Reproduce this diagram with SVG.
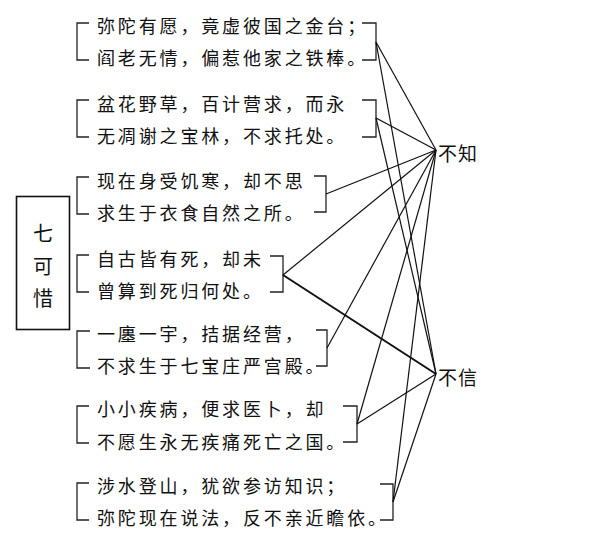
<svg xmlns="http://www.w3.org/2000/svg" width="600" height="542" viewBox="0 0 600 542">
<style>
.t{font-family:"Noto Sans CJK SC","Noto Sans CJK JP",sans-serif;font-size:18px;letter-spacing:2.85px;fill:#111;dominant-baseline:central}
.lbl{font-family:"Noto Sans CJK SC","Noto Sans CJK JP",sans-serif;font-size:19px;letter-spacing:1px;fill:#111;dominant-baseline:central}
.big{font-family:"Noto Sans CJK SC","Noto Sans CJK JP",sans-serif;font-size:20px;fill:#111;dominant-baseline:central;text-anchor:middle}
.br{fill:none;stroke:#222;stroke-width:1.3}
.ln{stroke:#111;stroke-width:1.2;fill:none}
.lnb{stroke:#111;stroke-width:2;fill:none}
</style>
<rect width="600" height="542" fill="#fff"/>
<g id="title">
<rect x="16.5" y="196.5" width="53" height="133" fill="none" stroke="#111" stroke-width="1.6"/>
<text class="big" x="43" y="232">七</text>
<text class="big" x="43" y="265">可</text>
<text class="big" x="43" y="297">惜</text>
</g>
<g id="g1">
<path class="br" d="M89,23H77V60H89"/>
<text class="t" x="97" y="25">弥陀有愿，竟虚彼国之金台；</text>
<text class="t" x="97" y="57">阎老无情，偏惹他家之铁棒。</text>
<path class="br" d="M362,23H376V60H362"/>
</g>
<g id="g2">
<path class="br" d="M89,100H77V137H89"/>
<text class="t" x="97" y="103">盆花野草，百计营求，而永</text>
<text class="t" x="97" y="135">无凋谢之宝林，不求托处。</text>
<path class="br" d="M362,100H376V137H362"/>
</g>
<g id="g3">
<path class="br" d="M89,177H77V214H89"/>
<text class="t" x="97" y="180">现在身受饥寒，却不思</text>
<text class="t" x="97" y="212">求生于衣食自然之所。</text>
<path class="br" d="M314,176H326V212H314"/>
</g>
<g id="g4">
<path class="br" d="M89,255H77V292H89"/>
<text class="t" x="97" y="258">自古皆有死，却未</text>
<text class="t" x="97" y="290">曾算到死归何处。</text>
<path class="br" d="M270,256H283V292H270"/>
</g>
<g id="g5">
<path class="br" d="M90,331H77V368H90"/>
<text class="t" x="97" y="333">一廛一宇，拮据经营，</text>
<text class="t" x="97" y="365">不求生于七宝庄严宫殿。</text>
<path class="br" d="M316,330H327V366H316"/>
</g>
<g id="g6">
<path class="br" d="M89,406H77V443H89"/>
<text class="t" x="97" y="408">小小疾病，便求医卜，却</text>
<text class="t" x="97" y="441">不愿生永无疾痛死亡之国。</text>
<path class="br" d="M343,406H357V442H343"/>
</g>
<g id="g7">
<path class="br" d="M89,483H77V520H89"/>
<text class="t" x="97" y="485">涉水登山，犹欲参访知识；</text>
<text class="t" x="97" y="517">弥陀现在说法，反不亲近瞻依。</text>
<path class="br" d="M380,484H393V520H380"/>
</g>
<g id="buzhi">
<text class="lbl" x="438" y="152">不知</text>
</g>
<g id="buxin">
<text class="lbl" x="438" y="376">不信</text>
</g>
<g id="connectors">
<line class="ln" x1="376" y1="42" x2="436" y2="150"/>
<line class="ln" x1="376" y1="42" x2="436" y2="374"/>
<line class="ln" x1="376" y1="118" x2="436" y2="150"/>
<line class="ln" x1="376" y1="118" x2="436" y2="374"/>
<line class="ln" x1="326" y1="194" x2="436" y2="150"/>
<line class="ln" x1="283" y1="275" x2="436" y2="150"/>
<line class="lnb" x1="283" y1="275" x2="436" y2="374"/>
<line class="ln" x1="327" y1="348" x2="436" y2="150"/>
<line class="ln" x1="357" y1="424" x2="436" y2="150"/>
<line class="ln" x1="357" y1="424" x2="436" y2="374"/>
<line class="ln" x1="393" y1="502" x2="436" y2="150"/>
<line class="ln" x1="393" y1="502" x2="436" y2="374"/>
</g>
</svg>
